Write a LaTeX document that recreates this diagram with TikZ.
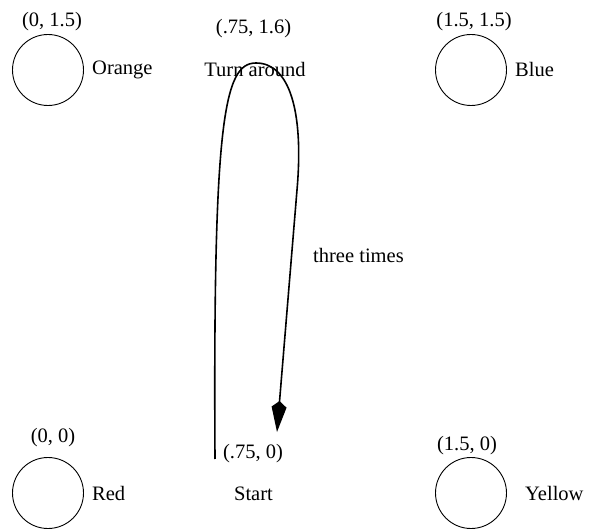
\documentclass[tikz,border=0pt]{standalone}
\usepackage{fontspec}
\setmainfont{Liberation Serif}
\usetikzlibrary{arrows.meta}
\begin{document}
\begin{tikzpicture}[x=1pt,y=-1pt,
  ball/.style={draw,circle,line width=0.9pt,minimum size=71pt,inner sep=0pt},
  lbl/.style={anchor=base,inner sep=0pt,font=\fontsize{20.5}{24}\selectfont},
  lbll/.style={anchor=base west,inner sep=0pt,font=\fontsize{20.5}{24}\selectfont},
  loopline/.style={line width=1.6pt}]
\useasboundingbox (0,0) rectangle (592,529);
% circles
\node[ball] (orange) at (48,70) {};
\node[ball] (blue) at (471,70) {};
\node[ball] (red) at (48,493) {};
\node[ball] (yellow) at (471,493) {};
% coordinate labels
\node[lbl] (corange) at (52,27) {(0, 1.5)};
\node[lbl] (cblue) at (474,27) {(1.5, 1.5)};
\node[lbl] (cred) at (53,442) {(0, 0)};
\node[lbl] (cyellow) at (467,450) {(1.5, 0)};
\node[lbl] (cturn) at (253.5,34) {(.75, 1.6)};
\node[lbl] (cstart) at (253,458) {(.75, 0)};
% names
\node[lbll] (lorange) at (92,75) {Orange};
\node[lbll] (lblue) at (515,77) {Blue};
\node[lbll] (lred) at (92,500) {Red};
\node[lbll] (lyellow) at (525,500) {Yellow};
\node[lbl] (lturn) at (255,77) {Turn around};
\node[lbl] (lstart) at (253.5,500) {Start};
\node[lbll] (lthree) at (313,263) {three times};
% loop
\coordinate (loopstart) at (215,459);
\coordinate (looptop) at (256,63);
\coordinate (loopright) at (297,190);
\coordinate (loopend) at (277,432);
\draw[loopline,-{Kite[length=31pt,width=15pt,inset=6pt]}]
  (loopstart) .. controls (213,120) and (224,63) .. (looptop)
  .. controls (289,63) and (304,110) .. (loopright) -- (loopend);
\end{tikzpicture}
\end{document}
